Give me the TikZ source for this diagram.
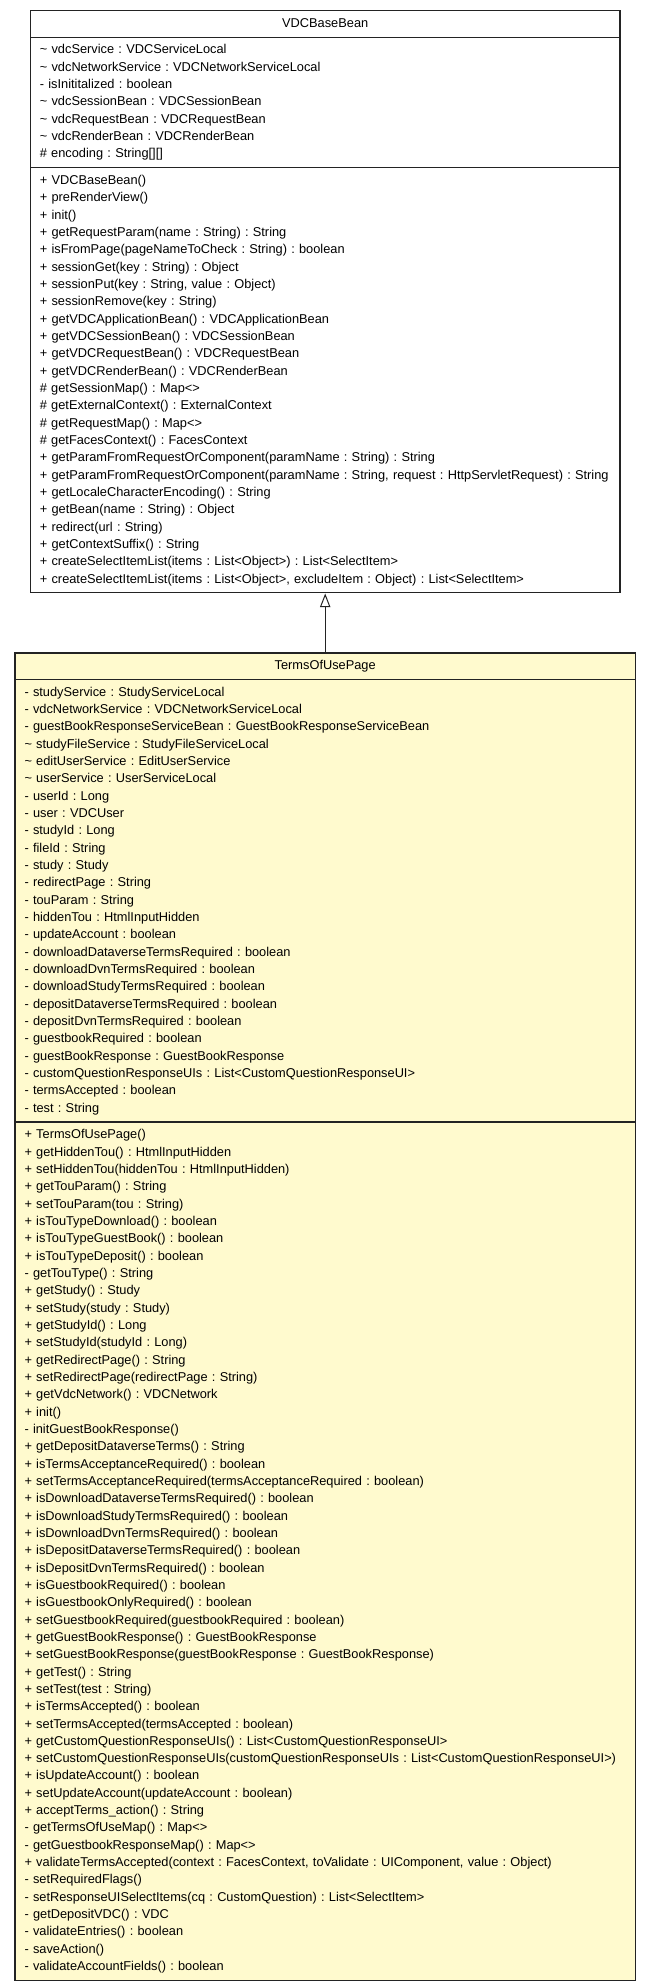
\documentclass[tikz,border=0pt]{standalone}
\usepackage{fontspec}
\setmainfont{Liberation Sans}
\usetikzlibrary{arrows.meta,positioning,shapes.multipart}

\definecolor{ClassFill}{RGB}{255,250,206}
\definecolor{ClassEdge}{RGB}{35,35,35}

\begin{document}
\frenchspacing
\begin{tikzpicture}[Class/.style={rectangle split,rectangle split parts=3,draw=ClassEdge,line width=1.2pt,
		inner xsep=9.5pt,inner ysep=4pt,align=left,anchor=north,font=\fontsize{12.8}{17.33}\selectfont},
		Arrow/.style={-{Triangle[open,length=13.7pt,width=10.4pt]},line width=1pt,draw=ClassEdge}]
		\pgfmathsetmacro{\dy}{59}
		\useasboundingbox (0pt,0pt) rectangle (651pt,-1984pt);
		% nodes
		\node[Class,text width=570.7pt] (Base) at (325.2pt,-10.1pt) {\strut\hspace*{\fill}VDCBaseBean\hspace*{\fill}\strut
			\nodepart{two}\strut\textasciitilde{} vdcService : VDCServiceLocal\\
			\textasciitilde{} vdcNetworkService : VDCNetworkServiceLocal\\
			- isInititalized : boolean\\
			\textasciitilde{} vdcSessionBean : VDCSessionBean\\
			\textasciitilde{} vdcRequestBean : VDCRequestBean\\
			\textasciitilde{} vdcRenderBean : VDCRenderBean\\
			\# encoding : String[][]\strut
			\nodepart{three}\strut+ VDCBaseBean()\\
			+ preRenderView()\\
			+ init()\\
			+ getRequestParam(name : String) : String\\
			+ isFromPage(pageNameToCheck : String) : boolean\\
			+ sessionGet(key : String) : Object\\
			+ sessionPut(key : String, value : Object)\\
			+ sessionRemove(key : String)\\
			+ getVDCApplicationBean() : VDCApplicationBean\\
			+ getVDCSessionBean() : VDCSessionBean\\
			+ getVDCRequestBean() : VDCRequestBean\\
			+ getVDCRenderBean() : VDCRenderBean\\
			\# getSessionMap() : Map<>\\
			\# getExternalContext() : ExternalContext\\
			\# getRequestMap() : Map<>\\
			\# getFacesContext() : FacesContext\\
			+ getParamFromRequestOrComponent(paramName : String) : String\\
			+ getParamFromRequestOrComponent(paramName : String, request : HttpServletRequest) : String\\
			+ getLocaleCharacterEncoding() : String\\
			+ getBean(name : String) : Object\\
			+ redirect(url : String)\\
			+ getContextSuffix() : String\\
			+ createSelectItemList(items : List<Object>) : List<SelectItem>\\
			+ createSelectItemList(items : List<Object>, excludeItem : Object) : List<SelectItem>\strut};
		\node[Class,fill=ClassFill,text width=601.4pt] (Page) [below=\dy pt of Base] {\strut\hspace*{\fill}TermsOfUsePage\hspace*{\fill}\strut
			\nodepart{two}\strut- studyService : StudyServiceLocal\\
			- vdcNetworkService : VDCNetworkServiceLocal\\
			- guestBookResponseServiceBean : GuestBookResponseServiceBean\\
			\textasciitilde{} studyFileService : StudyFileServiceLocal\\
			\textasciitilde{} editUserService : EditUserService\\
			\textasciitilde{} userService : UserServiceLocal\\
			- userId : Long\\
			- user : VDCUser\\
			- studyId : Long\\
			- fileId : String\\
			- study : Study\\
			- redirectPage : String\\
			- touParam : String\\
			- hiddenTou : HtmlInputHidden\\
			- updateAccount : boolean\\
			- downloadDataverseTermsRequired : boolean\\
			- downloadDvnTermsRequired : boolean\\
			- downloadStudyTermsRequired : boolean\\
			- depositDataverseTermsRequired : boolean\\
			- depositDvnTermsRequired : boolean\\
			- guestbookRequired : boolean\\
			- guestBookResponse : GuestBookResponse\\
			- customQuestionResponseUIs : List<CustomQuestionResponseUI>\\
			- termsAccepted : boolean\\
			- test : String\strut
			\nodepart{three}\strut+ TermsOfUsePage()\\
			+ getHiddenTou() : HtmlInputHidden\\
			+ setHiddenTou(hiddenTou : HtmlInputHidden)\\
			+ getTouParam() : String\\
			+ setTouParam(tou : String)\\
			+ isTouTypeDownload() : boolean\\
			+ isTouTypeGuestBook() : boolean\\
			+ isTouTypeDeposit() : boolean\\
			- getTouType() : String\\
			+ getStudy() : Study\\
			+ setStudy(study : Study)\\
			+ getStudyId() : Long\\
			+ setStudyId(studyId : Long)\\
			+ getRedirectPage() : String\\
			+ setRedirectPage(redirectPage : String)\\
			+ getVdcNetwork() : VDCNetwork\\
			+ init()\\
			- initGuestBookResponse()\\
			+ getDepositDataverseTerms() : String\\
			+ isTermsAcceptanceRequired() : boolean\\
			+ setTermsAcceptanceRequired(termsAcceptanceRequired : boolean)\\
			+ isDownloadDataverseTermsRequired() : boolean\\
			+ isDownloadStudyTermsRequired() : boolean\\
			+ isDownloadDvnTermsRequired() : boolean\\
			+ isDepositDataverseTermsRequired() : boolean\\
			+ isDepositDvnTermsRequired() : boolean\\
			+ isGuestbookRequired() : boolean\\
			+ isGuestbookOnlyRequired() : boolean\\
			+ setGuestbookRequired(guestbookRequired : boolean)\\
			+ getGuestBookResponse() : GuestBookResponse\\
			+ setGuestBookResponse(guestBookResponse : GuestBookResponse)\\
			+ getTest() : String\\
			+ setTest(test : String)\\
			+ isTermsAccepted() : boolean\\
			+ setTermsAccepted(termsAccepted : boolean)\\
			+ getCustomQuestionResponseUIs() : List<CustomQuestionResponseUI>\\
			+ setCustomQuestionResponseUIs(customQuestionResponseUIs : List<CustomQuestionResponseUI>)\\
			+ isUpdateAccount() : boolean\\
			+ setUpdateAccount(updateAccount : boolean)\\
			+ acceptTerms\_action() : String\\
			- getTermsOfUseMap() : Map<>\\
			- getGuestbookResponseMap() : Map<>\\
			+ validateTermsAccepted(context : FacesContext, toValidate : UIComponent, value : Object)\\
			- setRequiredFlags()\\
			- setResponseUISelectItems(cq : CustomQuestion) : List<SelectItem>\\
			- getDepositVDC() : VDC\\
			- validateEntries() : boolean\\
			- saveAction()\\
			- validateAccountFields() : boolean\strut};
		% connections
		\draw [Arrow] (Page) -- (Base);
	\end{tikzpicture}
\end{document}
